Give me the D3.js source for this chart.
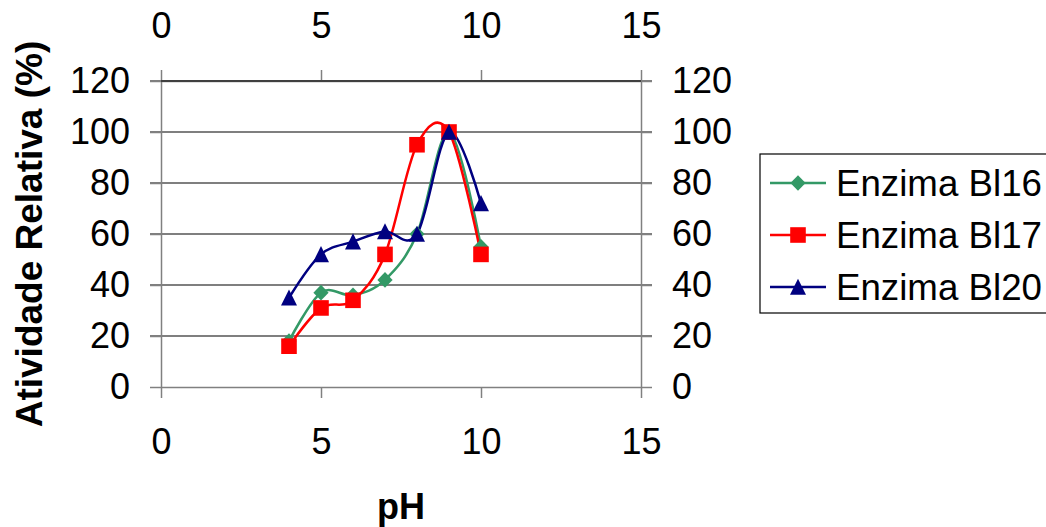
<!DOCTYPE html>
<html><head><meta charset="utf-8">
<script src="https://cdn.jsdelivr.net/npm/d3@7"></script>
<style>body{margin:0;background:#fff}svg{display:block}text{font-family:"Liberation Sans",Arial,sans-serif}</style>
</head><body><svg id="c" width="1046" height="527"></svg>
<script>
const phValues = [4, 5, 6, 7, 8, 9, 10];
const bl16 = [18, 37, 36, 42, 60, 100, 55];
const bl17 = [16, 31, 34, 52, 95, 100, 52];
const bl20 = [35, 52, 57, 61, 60, 100, 72];
const seriesNames = ["Enzima Bl16", "Enzima Bl17", "Enzima Bl20"];
const seriesColors = ["#339966", "#FF0000", "#000080"];
const xTicks = [0, 5, 10, 15];
const yTicks = [0, 20, 40, 60, 80, 100, 120];

// marker shapes (bounding box centred on the point)
const markerPaths = [
  "M0,-7.8L7.6,0L0,7.8L-7.6,0Z",           // diamond
  "M-7.8,-7.8H7.8V7.8H-7.8Z",              // square
  "M0,-8.3L8,7.8H-8Z"                      // triangle
];

const svg = d3.select("#c");
const L = 161, R = 641, T = 81, B = 387;
const x = d3.scaleLinear().domain([0, 15]).range([L, R]);
const y = d3.scaleLinear().domain([0, 120]).range([B, T]);
const FS = 36;
const axisColor = "#808080";

// gridlines
svg.append("g").selectAll("line").data(yTicks.filter(d => d > 0)).join("line")
  .attr("x1", L - 11).attr("x2", R + 11).attr("y1", d => y(d)).attr("y2", d => y(d))
  .attr("stroke", "#000").attr("stroke-width", 1.2);

function styleAxis(g){ g.select(".domain").attr("stroke", axisColor).attr("stroke-width", 1.5);
  g.selectAll(".tick line").attr("stroke", axisColor).attr("stroke-width", 1.5);
  g.selectAll(".tick text").attr("font-size", FS).attr("fill", "#000").style("font-family", "Liberation Sans, Arial, sans-serif"); }

svg.append("g").attr("transform", `translate(0,${B})`)
  .call(d3.axisBottom(x).tickValues(xTicks).tickSize(11).tickSizeOuter(0).tickPadding(30))
  .call(styleAxis);
svg.append("g").attr("transform", `translate(0,${T})`)
  .call(d3.axisTop(x).tickValues(xTicks).tickSize(11).tickSizeOuter(0).tickPadding(32))
  .call(styleAxis);
svg.append("g").attr("transform", `translate(${L},0)`)
  .call(d3.axisLeft(y).tickValues(yTicks).tickSize(11).tickSizeOuter(0).tickPadding(20))
  .call(styleAxis);
svg.append("g").attr("transform", `translate(${R},0)`)
  .call(d3.axisRight(y).tickValues(yTicks).tickSize(11).tickSizeOuter(0).tickPadding(20))
  .call(styleAxis);
svg.append("line").attr("x1", L).attr("x2", R).attr("y1", T).attr("y2", T).attr("stroke", "#000").attr("stroke-width", 1.2);

// series
const data = [bl16, bl17, bl20];
const line = d3.line().x((d, i) => x(phValues[i])).y(d => y(d)).curve(d3.curveCatmullRom.alpha(0));
data.forEach((vals, s) => {
  svg.append("path").datum(vals).attr("d", line).attr("fill", "none")
    .attr("stroke", seriesColors[s]).attr("stroke-width", 2.5);
});
data.forEach((vals, s) => {
  svg.append("g").selectAll("path").data(vals).join("path")
    .attr("transform", (d, i) => `translate(${x(phValues[i])},${y(d)})`)
    .attr("d", markerPaths[s])
    .attr("fill", seriesColors[s]);
});

// axis titles
svg.append("text").attr("transform", `translate(42,234) rotate(-90)`).attr("text-anchor", "middle")
  .attr("font-size", 37).attr("font-weight", "bold").text("Atividade Relativa (%)");
svg.append("text").attr("x", (L + R) / 2).attr("y", 519).attr("text-anchor", "middle")
  .attr("font-size", FS).attr("font-weight", "bold").text("pH");

// legend
const lg = svg.append("g");
lg.append("rect").attr("x", 760).attr("y", 154).attr("width", 300).attr("height", 159)
  .attr("fill", "#fff").attr("stroke", "#000").attr("stroke-width", 1.2);
seriesNames.forEach((n, s) => {
  const cy = 183 + s * 52;
  lg.append("line").attr("x1", 770).attr("x2", 826).attr("y1", cy).attr("y2", cy)
    .attr("stroke", seriesColors[s]).attr("stroke-width", 2.5);
  lg.append("path").attr("transform", `translate(798,${cy})`)
    .attr("d", markerPaths[s]).attr("fill", seriesColors[s]);
  lg.append("text").attr("x", 836).attr("y", cy + 13).attr("font-size", 36.7).text(n);
});
</script></body></html>
